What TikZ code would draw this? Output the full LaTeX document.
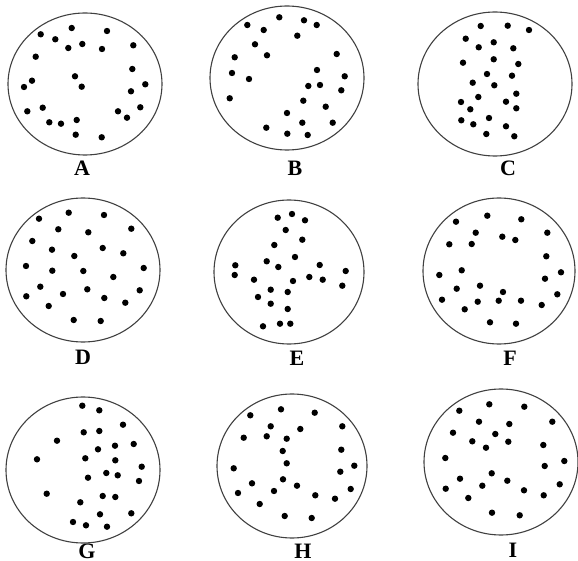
\documentclass[tikz,border=0pt]{standalone}
\usepackage{fontspec}
\setmainfont{Liberation Serif}
\usetikzlibrary{positioning}

\begin{document}
\begin{tikzpicture}[
  x=0.5pt, y=-0.5pt,
  ring/.style={draw=black!75, line width=0.55pt},
  speck/.style={fill=black},
  tag/.style={font=\bfseries\fontsize{11}{13}\selectfont, inner sep=0pt},
]
\useasboundingbox (0,0) rectangle (578,561);

% the nine plates
\draw[ring] (85,84) ellipse [x radius=77, y radius=71];
\draw[ring] (287,78) ellipse [x radius=77, y radius=72];
\draw[ring] (495,84) ellipse [x radius=77, y radius=72];
\draw[ring] (83,270) ellipse [x radius=77, y radius=72];
\draw[ring] (289,272) ellipse [x radius=75, y radius=72];
\draw[ring] (499,271) ellipse [x radius=76, y radius=73];
\draw[ring] (83,470) ellipse [x radius=77, y radius=73];
\draw[ring] (292,466) ellipse [x radius=75, y radius=72];
\draw[ring] (501,462) ellipse [x radius=77, y radius=73];

% A
\foreach \p in {(40.7,34.3),(71.7,28),(107,31),(55.3,39.3),(68.3,48),(82.3,44),
  (102,49),(133.3,45.3),(35.7,56.7),(132.3,69),(75,76.3),(32,80.7),(24,87),
  (81.7,86.7),(145.3,84.3),(131,91.3),(27.3,111.3),(42.7,107.7),(140.3,107.3),
  (118,111.3),(127,117.7),(49.3,122.3),(61,123.7),(76.7,120),(75.7,134.7),(101.7,137.3)}
  \fill[speck] \p circle [radius=1.6pt];
% B
\foreach \p in {(247.3,25),(279.3,17.3),(304,20.3),(316.7,25),(263.7,30),(297.3,35.7),
  (255,44.3),(234.7,57.3),(267,55.3),(336.7,54),(232,73),(249,79),(317,70),
  (344.7,76.3),(308.3,86),(320,85),(341.3,90.3),(229.7,98.3),(303.3,100.7),
  (325.7,106.7),(287,113),(302.3,122.7),(332.7,122.7),(266.3,127.7),(287.3,133.7),(307.7,135)}
  \fill[speck] \p circle [radius=1.6pt];
% C
\foreach \p in {(480.7,26),(507.7,25.7),(529,30),(465.7,38.7),(478.7,47.3),(493.7,42.3),
  (513.3,48.3),(463,62.7),(493.7,59.3),(518.3,64),(487,74),(512,75.7),(472.7,82.7),
  (494.3,85.3),(516.3,93.7),(478.3,97),(461,102),(506,101.7),(470.3,109.3),
  (516.3,108.3),(461.3,120.3),(489,118),(473.3,124.3),(506,126.3),(486.3,134),(514.3,136.3)}
  \fill[speck] \p circle [radius=1.6pt];
% D
\foreach \p in {(39,218.7),(68.7,212.7),(104,215),(58.3,229.3),(88.3,232.3),(131.3,228.7),
  (32.3,241),(52,249.7),(102.7,248),(74.3,256),(123.3,253.3),(26,266),(52.3,270.7),
  (83.3,271),(143.7,268),(113.3,277),(40.3,286.7),(26.3,296.3),(63,294),(87.3,289.3),
  (139.7,290.3),(104.3,298),(125.3,302.7),(48.7,306),(73.7,320),(100.7,321)}
  \fill[speck] \p circle [radius=1.6pt];
% E
\foreach \p in {(277.7,217.7),(292,214),(305,220.3),(285.7,230),(302.3,239.7),(274.3,245),
  (295,257),(266.7,261.3),(278.3,267),(319.7,265),(235.3,265.3),(234.7,275),(254,279.7),
  (293,281),(309.3,277),(322.7,279.7),(345.7,271),(342.3,285.7),(270.7,289.7),
  (287.7,292),(258,297),(270.7,303.7),(287.7,309),(263,326.3),(280,323.7),(290.3,323.7)}
  \fill[speck] \p circle [radius=1.6pt];
% F
\foreach \p in {(456,221.7),(487.3,215.7),(521.3,219.3),(475.7,232.7),(502.3,236.7),
  (515.3,240),(547.3,232.7),(449.3,244.3),(471.7,244),(546.3,256.3),(461.7,270.3),
  (439.3,275),(561,272.3),(545,278.7),(456.7,288.7),(480,285.7),(503,292),(442,299.7),
  (477.7,301.7),(498.7,300.7),(521,300.7),(557.3,294.3),(541.7,305),(464.7,309.3),
  (490,322.3),(516,323.7)}
  \fill[speck] \p circle [radius=1.6pt];
% G
\foreach \p in {(82.3,405.7),(99.3,410.3),(123,424.7),(83.7,432.3),(99.3,431),(57,440.7),
  (133.7,444),(115,445.7),(98,449.3),(37,459.3),(85.3,458.3),(115.3,460.3),(141.7,466.7),
  (106.3,473),(117.7,475.3),(88,477.7),(139,481),(46.7,493.7),(102.7,496),(115.3,497),
  (80.3,502.3),(100,514.3),(131.3,513.3),(73,522),(86,525.3),(107,526.7)}
  \fill[speck] \p circle [radius=1.6pt];
% H
\foreach \p in {(250.3,415.3),(281,409.3),(314.7,412.7),(270.7,426.3),(300.3,429),
  (342.3,426.3),(243.7,437.7),(266.7,436.3),(286.7,438.7),(282.7,451),(341.3,449.7),
  (286.7,463.3),(233.7,468.3),(354.3,465.7),(340.3,471.7),(252,483.3),(283,479.3),
  (297,485.7),(238,493),(274,491),(315.3,495.3),(350.7,489),(335,498.7),(259.7,504),
  (284.7,516),(311.7,518)}
  \fill[speck] \p circle [radius=1.6pt];
% I
\foreach \p in {(459.3,410.7),(489.3,404.3),(524.3,406.7),(479,421.7),(509.3,424),
  (552.3,421.7),(453,432.7),(495.3,434),(472.3,441.3),(508.3,441.7),(486,447.7),
  (543.3,445),(445.3,458),(564.3,461),(544.7,466),(491.7,473.3),(460,478.7),
  (507.3,480.7),(445.7,488.7),(482.3,485.7),(524,490.3),(559.7,484.3),(543.7,495.3),
  (468.3,498),(492,512.7),(519.7,515.3)}
  \fill[speck] \p circle [radius=1.6pt];

% plate letters
\node[tag] (labA) at (82,168) {A};
\node[tag] (labB) at (295,168) {B};
\node[tag] (labC) at (508,168) {C};
\node[tag] (labD) at (83,357) {D};
\node[tag] (labE) at (297,358) {E};
\node[tag] (labF) at (510,358) {F};
\node[tag] (labG) at (87,551) {G};
\node[tag] (labH) at (303,551) {H};
\node[tag] (labI) at (513,550) {I};
\end{tikzpicture}
\end{document}
